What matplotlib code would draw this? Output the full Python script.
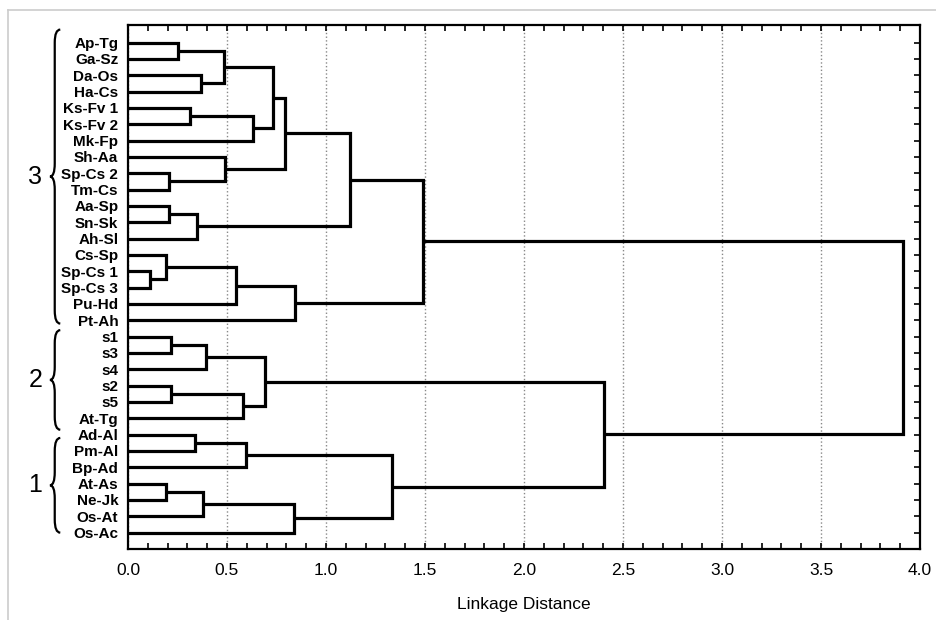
import matplotlib
matplotlib.use("Agg")
import matplotlib.pyplot as plt
import numpy as np
from matplotlib.path import Path
from matplotlib.patches import PathPatch
from matplotlib.lines import Line2D
import matplotlib.transforms as mtransforms

plt.rcParams['font.family'] = ['Liberation Sans', 'DejaVu Sans']

# leaves, top to bottom
leaves = ["Ap-Tg", "Ga-Sz", "Da-Os", "Ha-Cs", "Ks-Fv 1", "Ks-Fv 2", "Mk-Fp",
          "Sh-Aa", "Sp-Cs 2", "Tm-Cs", "Aa-Sp", "Sn-Sk", "Ah-Sl", "Cs-Sp",
          "Sp-Cs 1", "Sp-Cs 3", "Pu-Hd", "Pt-Ah",
          "s1", "s3", "s4", "s2", "s5", "At-Tg",
          "Ad-Al", "Pm-Al", "Bp-Ad", "At-As", "Ne-Jk", "Os-At", "Os-Ac"]

# merges, linkage style: node id = len(leaves) + merge index
merge_a = [0, 2, 31, 4, 34, 33, 8, 7, 36, 10, 40, 39, 14, 13, 44, 45, 42,
           18, 48, 21, 50, 49, 24, 53, 27, 55, 56, 54, 52, 47]
merge_b = [1, 3, 32, 5, 6, 35, 9, 37, 38, 11, 12, 41, 15, 43, 16, 17, 46,
           19, 20, 22, 23, 51, 25, 26, 28, 29, 30, 57, 58, 59]
merge_h = [0.253, 0.371, 0.485, 0.312, 0.629, 0.733, 0.207, 0.489, 0.792,
           0.207, 0.349, 1.120, 0.113, 0.194, 0.544, 0.842, 1.491,
           0.219, 0.393, 0.219, 0.581, 0.691,
           0.337, 0.598, 0.190, 0.379, 0.839, 1.331, 2.403, 3.912]

group_names = ["3", "2", "1"]
brace_spans = [(-0.8, 17.2), (17.6, 23.7), (24.2, 30.0)]

fig = plt.figure(figsize=(9.37, 6.2), dpi=100)
ax = fig.add_axes([128/937, 1-549/620, 792/937, 524/620])

n = len(leaves)
ypos = list(range(n))
hgt = [0.0]*n
for a, b, h in zip(merge_a, merge_b, merge_h):
    ax.plot([hgt[a], h, h, hgt[b]], [ypos[a], ypos[a], ypos[b], ypos[b]],
            color='black', lw=2.3, solid_joinstyle='miter', solid_capstyle='butt',
            zorder=3)
    ypos.append((ypos[a]+ypos[b])/2)
    hgt.append(h)

ax.set_xlim(0, 4.0)
ax.set_ylim(31.0, -1.08)
ax.set_xticks(np.arange(0, 4.01, 0.5))
ax.set_xticklabels(["%.1f" % v for v in np.arange(0, 4.01, 0.5)], fontsize=12.5)
ax.set_xticks(np.arange(0, 4.01, 0.1), minor=True)
ax.set_yticks(range(n))
ax.set_yticklabels(leaves, fontsize=11, fontweight='bold')
ax.tick_params(axis='x', which='both', direction='in', top=True, bottom=True,
               length=4, width=1.2, pad=10)
ax.tick_params(axis='y', direction='in', left=True, right=True, length=4,
               width=1.2, pad=7)
for s in ax.spines.values():
    s.set_linewidth(1.6)
ax.grid(axis='x', which='major', linestyle=':', color='#888888', linewidth=1.0)
ax.set_axisbelow(True)
ax.set_xlabel("Linkage Distance", fontsize=12.5, labelpad=14)

# group braces
trans = mtransforms.blended_transform_factory(ax.transAxes, ax.transData)
xt, xb, xe = -0.0985, -0.0925, -0.0855
r = 0.8
for name, (y0, y1) in zip(group_names, brace_spans):
    ym = (y0 + y1)/2
    verts = [(xe, y0), (xb, y0), (xb, y0+r), (xb, ym-r), (xb, ym), (xt, ym),
             (xb, ym), (xb, ym+r), (xb, y1-r), (xb, y1), (xe, y1)]
    codes = [Path.MOVETO, Path.CURVE3, Path.CURVE3, Path.LINETO, Path.CURVE3,
             Path.CURVE3, Path.CURVE3, Path.CURVE3, Path.LINETO, Path.CURVE3,
             Path.CURVE3]
    ax.add_patch(PathPatch(Path(verts, codes), transform=trans, fill=False,
                           lw=1.6, color='black', clip_on=False))
    ax.text(-0.117, ym, name, transform=trans, fontsize=18, ha='center',
            va='center')

# light frame of the original picture
fig.add_artist(Line2D([8/937, 8/937], [0, 1-10/620], color='#cccccc', lw=1.2))
fig.add_artist(Line2D([8/937, 1], [1-10/620, 1-10/620], color='#cccccc', lw=1.2))

fig.savefig("out.png", dpi=100)
